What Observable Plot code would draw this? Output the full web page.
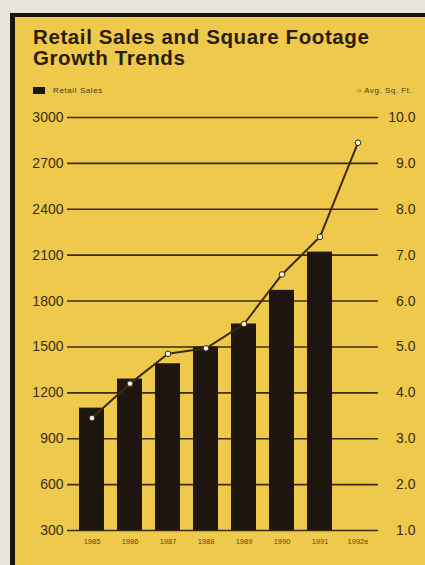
<!DOCTYPE html>
<html>
<head>
<meta charset="utf-8">
<script src="https://cdn.jsdelivr.net/npm/d3@7"></script>
<script src="https://cdn.jsdelivr.net/npm/@observablehq/plot@0.6"></script>
<style>
  html, body { margin: 0; padding: 0; }
  body { width: 425px; height: 565px; background: #e8e5de; overflow: hidden; position: relative; font-family: "Liberation Sans", Arial, sans-serif; }
  #panel { position: absolute; left: 10px; top: 13px; width: 415px; height: 552px; box-sizing: border-box;
           border-left: 5px solid #1c140c; border-top: 4px solid #1c140c; background: #efc94b; }
  .title { position: absolute; left: 18px; font-family: "Liberation Sans", Arial, sans-serif;
           font-weight: bold; font-size: 20.5px; line-height: 21px; letter-spacing: 0.6px; color: #2a1d0c; margin: 0; white-space: nowrap; }
  #t1 { top: 9px; }
  #t2 { top: 30px; }
  #legL { position: absolute; left: 18px; top: 69px; font-size: 8px; letter-spacing: 0.6px; color: #4a3a1c; line-height: 9px; display: flex; align-items: center; }
  #legL .sw { display: inline-block; width: 12px; height: 7px; background: #1e1711; margin-right: 8px; }
  #legR { position: absolute; right: 13px; top: 69px; font-size: 8px; letter-spacing: 0.5px; color: #4a3a1c; line-height: 9px; }
  #chart { position: absolute; left: 0; top: 83px; }
</style>
</head>
<body>
<div id="panel">
  <div class="title" id="t1">Retail Sales and Square Footage</div>
  <div class="title" id="t2">Growth Trends</div>
  <div id="legL"><span class="sw"></span>Retail Sales</div>
  <div id="legR">○ Avg. Sq. Ft.</div>
  <div id="chart"></div>
</div>
<script>
const years = ["1985", "1986", "1987", "1988", "1989", "1990", "1991", "1992e"];
const retailSales = [1100, 1290, 1390, 1500, 1650, 1870, 2120, null];
const avgSqFt = [3.45, 4.2, 4.85, 4.97, 5.5, 6.58, 7.4, 9.45];
const leftTicks = [300, 600, 900, 1200, 1500, 1800, 2100, 2400, 2700, 3000];
const rightTicks = [1, 2, 3, 4, 5, 6, 7, 8, 9, 10];

// map the right-hand (Avg. Sq. Ft.) values onto the shared vertical scale
const toLeft = v => 300 + (v - 1) * 300;
const fromLeft = t => (t - 300) / 300 + 1;

const barData = years.map((year, i) => ({year, sales: retailSales[i]})).filter(d => d.sales != null);
const lineData = years.map((year, i) => ({year, sq: avgSqFt[i], yv: toLeft(avgSqFt[i])}));

const ink = "#3b2a12";

const chart = Plot.plot({
  width: 410,
  height: 460,
  marginLeft: 52,
  marginRight: 47,
  marginTop: 17,
  marginBottom: 30,
  style: {background: "transparent", fontFamily: "'Liberation Sans', Arial, sans-serif", color: "#3b2c14"},
  x: {domain: years, paddingInner: 0.33, paddingOuter: 0.1, insetLeft: 6, insetRight: 1, axis: null},
  y: {domain: [300, 3000], axis: null},
  marks: [
    Plot.ruleY(leftTicks, {stroke: ink, strokeWidth: 1.6}),
    Plot.barY(barData, {x: "year", y1: 300, y2: "sales", fill: "#1e1711"}),
    Plot.line(lineData, {x: "year", y: "yv", stroke: ink, strokeWidth: 2}),
    Plot.dot(lineData, {x: "year", y: "yv", r: 2.8, fill: "#f4efd9", stroke: ink, strokeWidth: 1}),
    Plot.axisY({ticks: leftTicks, anchor: "left", tickSize: 0, tickPadding: 4, fontSize: 14,
                tickFormat: d => String(d), fill: "#3b2c14", label: null}),
    Plot.axisY({ticks: rightTicks.map(toLeft), anchor: "right", tickSize: 0, tickPadding: 0,
                tickFormat: t => fromLeft(t).toFixed(1), textAnchor: "end", dx: 37, fontSize: 14, fill: "#3b2c14", label: null}),
    Plot.axisX({tickSize: 0, tickPadding: 8, fontSize: 7.5, fill: "#5a4520", label: null})
  ]
});
document.getElementById("chart").appendChild(chart);
</script>
</body>
</html>
